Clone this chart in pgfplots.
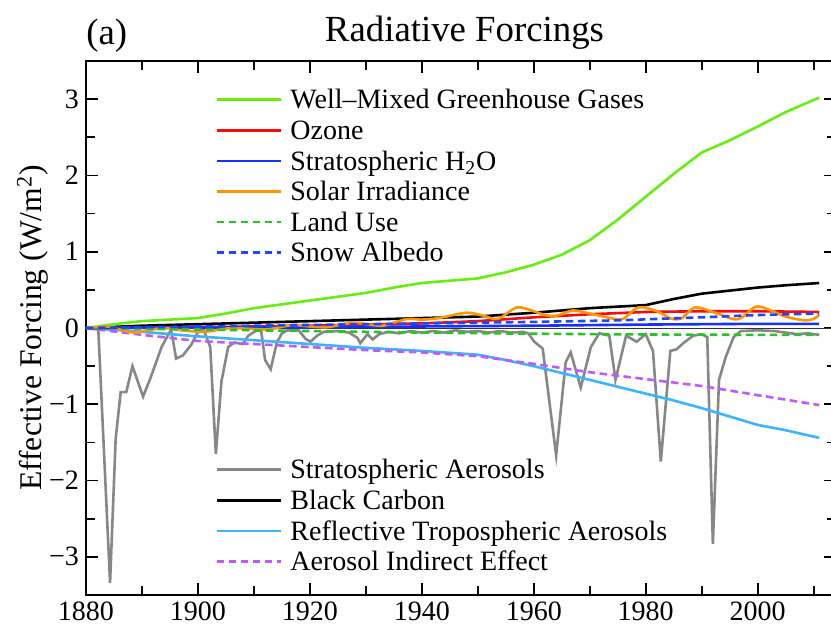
\documentclass[border=0pt]{standalone}
\usepackage{fontspec}
\setmainfont{Liberation Serif}
\newfontfamily\tnr{Liberation Serif}[Ligatures=TeX]
\usepackage{pgfplots}
\pgfplotsset{compat=1.18}

\definecolor{wmghg}{RGB}{102,238,17}
\definecolor{ozone}{RGB}{250,10,10}
\definecolor{htwoo}{RGB}{20,50,255}
\definecolor{solar}{RGB}{255,150,0}
\definecolor{landuse}{RGB}{40,195,40}
\definecolor{snow}{RGB}{30,70,255}
\definecolor{straer}{RGB}{135,135,135}
\definecolor{reflect}{RGB}{60,180,255}
\definecolor{aie}{RGB}{190,90,255}

\pgfplotsset{
  frame/.style={
    at={(0,0)}, anchor=south west,
    width=375pt, height=267pt, scale only axis,
    xmin=1880, xmax=2014, ymin=-3.5, ymax=3.5,
  },
  leg/.style={
    legend style={at={(rel axis cs:0.172,#1)}, anchor=north west,
      draw=none, fill=none, inner sep=0pt, row sep=0pt, column sep=4.2pt,
      font=\tnr\fontsize{14}{16}\selectfont,
      nodes={inner sep=0pt, text height=12.25pt, text depth=3.05pt}},
    legend cell align=left,
    legend image code/.code={\draw[##1] (0pt,0pt) -- (32pt,0pt);},
  },
  sol/.style={line width=1.3pt},
  dsh/.style={line width=1.3pt, dash pattern=on 3.75pt off 2.25pt},
}

\begin{document}
\tnr
\begin{tikzpicture}
\useasboundingbox (-43pt,-16.5pt) rectangle (372.5pt,297.5pt);

\begin{axis}[
  frame, leg=0.264, name=main,
  xtick={1880,1900,...,2000}, minor xtick={1890,1910,...,2010},
  ytick={-3,...,3}, yticklabels={−3,−2,−1,0,1,2,3},
  minor ytick={-3.5,-2.5,...,3.5},
  tick align=inside, major tick length=6pt, minor tick length=4.5pt,
  tick style={black, line width=0.9pt},
  axis line style={line width=1pt},
  ticklabel style={font=\tnr\fontsize{14}{16}\selectfont},
  /pgf/number format/1000 sep={},
  /pgf/number format/assume math mode=true,
  ylabel={Effective Forcing (W/m\textsuperscript{2})},
  every axis y label/.style={at={(axis description cs:-0.0587,0.5)},
    rotate=90, anchor=base, font=\tnr\fontsize{15.8}{18}\selectfont},
]
\addplot[black!80, line width=0.5pt, forget plot] coordinates {(1880,0) (2014,0)};

\addplot[sol, straer] coordinates {
(1880,0) (1881,-0.01) (1882.2,-0.02) (1884.3,-3.34) (1885.3,-1.45) (1886.2,-0.84)
(1887.2,-0.84) (1888.3,-0.50) (1890.2,-0.90) (1891.5,-0.66) (1893.5,-0.25)
(1895.2,-0.02) (1896.1,-0.40) (1897.3,-0.36) (1898.8,-0.22) (1900,-0.05)
(1901,-0.02) (1902.2,-0.25) (1903.2,-1.65) (1904.2,-0.70) (1905.4,-0.25)
(1906.5,-0.19) (1908,-0.21) (1909,-0.10) (1910.5,-0.03) (1911.3,-0.04)
(1912,-0.42) (1913,-0.54) (1914.1,-0.19) (1915,-0.07) (1916,-0.03) (1918,-0.03)
(1919.2,-0.14) (1920.1,-0.18) (1921.3,-0.10) (1922.5,-0.05) (1925,-0.04)
(1927,-0.06) (1928.5,-0.13) (1929,-0.20) (1930.3,-0.08) (1931.2,-0.15)
(1932.4,-0.08) (1934,-0.05) (1936,-0.07) (1938,-0.04) (1940,-0.06) (1942,-0.04)
(1944,-0.06) (1946,-0.03) (1948,-0.05) (1950,-0.04) (1952,-0.06) (1954,-0.04)
(1956,-0.06) (1958,-0.05) (1959,-0.07) (1960.1,-0.18) (1961.6,-0.27) (1964,-1.67)
(1965.7,-0.45) (1966.6,-0.32) (1968.4,-0.78) (1970.2,-0.25) (1971.7,-0.07)
(1973.5,-0.10) (1974.6,-0.68) (1976.5,-0.10) (1978.4,-0.18) (1980,-0.08)
(1981.3,-0.30) (1982.7,-1.75) (1984.4,-0.30) (1985.5,-0.28) (1986.7,-0.20)
(1988.5,-0.10) (1990,-0.08) (1991,-0.12) (1992,-2.83) (1993.1,-0.68)
(1994.3,-0.38) (1995.7,-0.12) (1997,-0.04) (2000,-0.03) (2003,-0.04)
(2005,-0.06) (2007,-0.08) (2009,-0.07) (2011,-0.09)};
\addlegendentry{Stratospheric Aerosols}

\addplot[sol, black] coordinates {
(1880,0) (1890,0.03) (1900,0.05) (1910,0.07) (1920,0.09) (1930,0.11) (1940,0.13)
(1950,0.15) (1960,0.20) (1970,0.26) (1980,0.30) (1985,0.38) (1990,0.45)
(1995,0.49) (2000,0.53) (2005,0.56) (2011,0.59)};
\addlegendentry{Black Carbon}

\addplot[sol, reflect] coordinates {
(1880,0) (1890,-0.05) (1900,-0.11) (1910,-0.16) (1920,-0.21) (1930,-0.26)
(1940,-0.30) (1950,-0.35) (1955,-0.42) (1960,-0.50) (1965,-0.59) (1970,-0.68)
(1975,-0.77) (1980,-0.86) (1985,-0.95) (1990,-1.05) (1995,-1.16) (2000,-1.27)
(2005,-1.34) (2011,-1.44)};
\addlegendentry{Reflective Tropospheric Aerosols}

\addplot[dsh, aie] coordinates {
(1880,0) (1890,-0.09) (1900,-0.17) (1910,-0.21) (1920,-0.25) (1930,-0.29)
(1940,-0.32) (1950,-0.37) (1960,-0.47) (1970,-0.58) (1980,-0.67) (1990,-0.76)
(2000,-0.88) (2011,-1.01)};
\addlegendentry{Aerosol Indirect Effect}
\end{axis}

\begin{axis}[frame, leg=0.9569, hide axis]
\addplot[sol, wmghg] coordinates {
(1880,0.00) (1885,0.05) (1890,0.09) (1895,0.11) (1900,0.13) (1905,0.19)
(1910,0.26) (1915,0.31) (1920,0.36) (1925,0.41) (1930,0.46) (1935,0.53)
(1940,0.59) (1945,0.62) (1950,0.65) (1955,0.73) (1960,0.83) (1965,0.96)
(1970,1.15) (1975,1.42) (1980,1.72) (1985,2.02) (1990,2.30) (1995,2.46)
(2000,2.64) (2005,2.83) (2011,3.02)};
\addlegendentry{Well--Mixed Greenhouse Gases}

\addplot[sol, ozone] coordinates {
(1880,0) (1900,0.01) (1920,0.03) (1940,0.06) (1950,0.09) (1960,0.14) (1970,0.18)
(1980,0.21) (1990,0.22) (2000,0.22) (2011,0.21)};
\addlegendentry{Ozone}

\addplot[sol, htwoo] coordinates {
(1880,0) (1900,0.005) (1920,0.01) (1940,0.02) (1960,0.03) (1980,0.045)
(2000,0.055) (2011,0.055)};
\addlegendentry{Stratospheric H\textsubscript{2}O}

\addplot[sol, solar, smooth, tension=0.5] coordinates {
(1880,0.00) (1882,0.01) (1884,0.02) (1886,-0.02) (1888.7,-0.06) (1891,-0.03)
(1894,0.00) (1897,-0.03) (1901,-0.05) (1904,-0.02) (1906,0.00) (1909,-0.01)
(1912,-0.02) (1914,0.00) (1917,0.04) (1920,0.02) (1923,0.01) (1926,0.05)
(1928,0.07) (1931,0.04) (1933,0.03) (1935,0.07) (1937.5,0.12) (1940,0.11)
(1943,0.13) (1948,0.20) (1951,0.16) (1953.6,0.12) (1957,0.27) (1960,0.22)
(1962,0.17) (1964,0.16) (1967,0.23) (1970,0.19) (1974.4,0.12) (1976,0.12)
(1978.7,0.27) (1982,0.22) (1984.6,0.12) (1986.5,0.13) (1988.8,0.27) (1992,0.21)
(1995.5,0.12) (1997,0.13) (1999.7,0.28) (2002,0.24) (2005,0.15) (2008.4,0.10)
(2010,0.12) (2011,0.17)};
\addlegendentry{Solar Irradiance}

\addplot[dsh, landuse] coordinates {
(1880,0) (1900,-0.02) (1920,-0.04) (1940,-0.06) (1960,-0.075) (1980,-0.085)
(2000,-0.09) (2011,-0.09)};
\addlegendentry{Land Use}

\addplot[dsh, snow] coordinates {
(1880,0) (1900,0.02) (1920,0.04) (1940,0.06) (1960,0.08) (1975,0.10)
(1990,0.14) (2000,0.17) (2011,0.19)};
\addlegendentry{Snow Albedo}
\end{axis}

\node[anchor=base, inner sep=0pt, font=\tnr\fontsize{18.4}{20}\selectfont]
  at ([xshift=189.25pt, yshift=10pt]main.north west) {Radiative Forcings};
\node[anchor=base west, inner sep=0pt, font=\tnr\fontsize{18.4}{20}\selectfont]
  at ([yshift=8.5pt]main.north west) {(a)};
\end{tikzpicture}
\end{document}
